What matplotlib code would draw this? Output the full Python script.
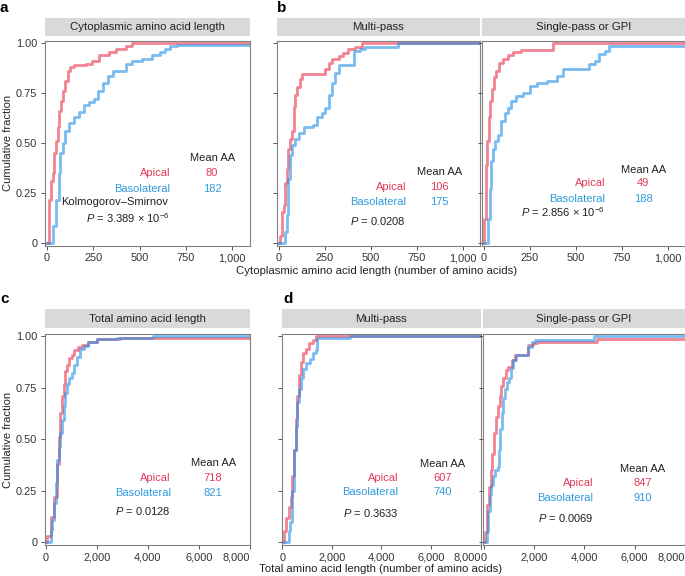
import matplotlib
matplotlib.use("Agg")
import matplotlib.pyplot as plt

plt.rcParams['font.family'] = ['Liberation Sans', 'DejaVu Sans']
plt.rcParams['mathtext.fontset'] = 'custom'
plt.rcParams['mathtext.rm'] = 'Liberation Sans'
plt.rcParams['mathtext.it'] = 'Liberation Sans:italic'

RED = '#E8304A'
BLUE = '#1E90E8'
RED_TXT = '#E23A58'
BLUE_TXT = '#2E9BDC'
FS = 8

# ---- data (x = amino acids, y = cumulative fraction) ----
# a: cytoplasmic length, all proteins
a_api_x = [0, 14, 23, 32, 41, 50, 59, 68, 77, 86, 98, 112, 127, 148, 211, 246, 282, 336, 371, 425, 460, 1100]
a_api_y = [0, 0.215, 0.31, 0.35, 0.45, 0.51, 0.58, 0.66, 0.71, 0.76, 0.81, 0.86, 0.88, 0.89, 0.895, 0.91, 0.94, 0.955, 0.97, 0.985, 1.0, 1.0]
a_bas_x = [0, 18, 32, 50, 64, 73, 86, 100, 121, 148, 175, 202, 228, 255, 273, 300, 327, 354, 407, 425, 461, 514, 568, 612,
           639, 666, 700, 1100]
a_bas_y = [0, 0, 0.083, 0.215, 0.35, 0.45, 0.5, 0.56, 0.6, 0.63, 0.655, 0.69, 0.705, 0.72, 0.76, 0.8, 0.835, 0.86, 0.86,
           0.895, 0.91, 0.92, 0.94, 0.955, 0.97, 0.985, 0.99, 0.99]

# b: cytoplasmic length, multi-pass
b_api_x = [0, 9, 18, 27, 36, 45, 54, 63, 72, 82, 91, 100, 114, 127, 236, 254, 272, 290, 326, 353, 380, 417, 453, 1100]
b_api_y = [0, 0.037, 0.155, 0.19, 0.3, 0.37, 0.47, 0.52, 0.56, 0.68, 0.74, 0.78, 0.82, 0.845, 0.845, 0.87, 0.9, 0.92,
           0.935, 0.95, 0.97, 0.98, 1.0, 1.0]
b_bas_x = [0, 27, 36, 45, 54, 63, 72, 91, 109, 136, 190, 208, 236, 254, 272, 290, 308, 326, 380, 408, 444, 471, 652, 1100]
b_bas_y = [0, 0, 0.054, 0.14, 0.32, 0.44, 0.49, 0.52, 0.55, 0.58, 0.59, 0.63, 0.65, 0.675, 0.74, 0.8, 0.85, 0.89, 0.89,
           0.96, 0.97, 0.98, 1.0, 1.0]

# b: cytoplasmic length, single-pass or GPI
s_api_x = [0, 5, 11, 18, 27, 36, 44, 55, 69, 84, 106, 133, 161, 206, 376, 1100]
s_api_y = [0, 0.12, 0.39, 0.51, 0.63, 0.71, 0.77, 0.83, 0.86, 0.9, 0.92, 0.94, 0.955, 0.965, 1.0, 1.0]
s_bas_x = [0, 15, 24, 33, 42, 51, 64, 78, 97, 115, 133, 151, 179, 215, 252, 288, 343, 398, 434, 526, 571, 608, 626, 662,
           681, 1100]
s_bas_y = [0, 0, 0.12, 0.27, 0.41, 0.47, 0.51, 0.54, 0.61, 0.65, 0.675, 0.71, 0.735, 0.75, 0.785, 0.8, 0.81, 0.835, 0.87,
           0.87, 0.895, 0.91, 0.945, 0.96, 0.985, 0.985]

# c: total length, all proteins
c_api_x = [0, 65, 194, 323, 452, 516, 580, 645, 710, 774, 839, 929, 1032, 1122, 1251, 1419, 1677, 2000, 2900, 8500]
c_api_y = [0, 0.03, 0.125, 0.22, 0.38, 0.51, 0.63, 0.71, 0.77, 0.83, 0.86, 0.895, 0.91, 0.935, 0.95, 0.96, 0.975, 0.985,
           0.99, 0.99]
c_bas_x = [0, 129, 194, 258, 323, 387, 452, 516, 580, 645, 710, 774, 839, 929, 1032, 1122, 1225, 1354, 1483, 1677, 2000,
           2774, 4190, 8500]
c_bas_y = [0, 0, 0.06, 0.11, 0.19, 0.29, 0.4, 0.465, 0.53, 0.595, 0.66, 0.725, 0.77, 0.8, 0.82, 0.86, 0.9, 0.94, 0.955,
           0.975, 0.985, 0.99, 1.0, 1.0]

# d: total length, multi-pass
d_api_x = [0, 67, 162, 256, 337, 404, 471, 539, 606, 674, 741, 835, 943, 1078, 1239, 1374, 8500]
d_api_y = [0, 0.053, 0.12, 0.17, 0.22, 0.32, 0.45, 0.6, 0.71, 0.81, 0.875, 0.92, 0.94, 0.97, 0.98, 1.0, 1.0]
d_bas_x = [0, 189, 256, 323, 404, 471, 539, 606, 674, 741, 835, 970, 1105, 1239, 1347, 1414, 2720, 8500]
d_bas_y = [0, 0, 0.053, 0.1, 0.25, 0.45, 0.56, 0.68, 0.745, 0.8, 0.84, 0.87, 0.89, 0.92, 0.935, 0.99, 1.0, 1.0]

# d: total length, single-pass or GPI
e_api_x = [0, 70, 141, 211, 282, 352, 423, 493, 564, 634, 705, 775, 888, 987, 1128, 1241, 1762, 1974, 2115, 4512, 8500]
e_api_y = [0, 0.05, 0.18, 0.27, 0.35, 0.43, 0.53, 0.61, 0.66, 0.71, 0.76, 0.8, 0.835, 0.85, 0.885, 0.91, 0.96, 0.967,
           0.975, 0.985, 0.985]
e_bas_x = [0, 99, 141, 183, 240, 310, 380, 465, 564, 606, 663, 719, 775, 846, 917, 1015, 1086, 1170, 1269, 1762, 1904,
           2045, 4400, 8500]
e_bas_y = [0, 0, 0.053, 0.15, 0.23, 0.28, 0.32, 0.35, 0.365, 0.45, 0.55, 0.63, 0.7, 0.745, 0.78, 0.8, 0.845, 0.885, 0.91,
           0.95, 0.975, 0.98, 1.0, 1.0]

titles = ['Cytoplasmic amino acid length', 'Multi-pass', 'Single-pass or GPI',
          'Total amino acid length', 'Multi-pass', 'Single-pass or GPI']
mean_api = ['80', '106', '49', '718', '607', '847']
mean_bas = ['182', '175', '188', '821', '740', '910']
pvals = [r'$\it{P}$ = 3.389 × 10$^{-6}$', r'$\it{P}$ = 0.0208', r'$\it{P}$ = 2.856 × 10$^{-6}$',
         r'$\it{P}$ = 0.0128', r'$\it{P}$ = 0.3633', r'$\it{P}$ = 0.0069']
curves = [(a_api_x, a_api_y, a_bas_x, a_bas_y), (b_api_x, b_api_y, b_bas_x, b_bas_y),
          (s_api_x, s_api_y, s_bas_x, s_bas_y), (c_api_x, c_api_y, c_bas_x, c_bas_y),
          (d_api_x, d_api_y, d_bas_x, d_bas_y), (e_api_x, e_api_y, e_bas_x, e_bas_y)]

W, H = 685, 576
fig = plt.figure(figsize=(W / 100, H / 100), dpi=100)

# pixel boxes (left, right) and (top, bottom)
xspans = [(45, 250), (276.7, 480), (481.7, 685), (45, 250), (281.7, 480.5), (483, 685)]
row_y = [(40.7, 245.6), (334.3, 545)]
strip_y = [(18.3, 36), (309.3, 328.3)]
# text positions in axes fraction: (mean x, label right x, mean y, apical y, baso y, ks y, p y)
txt = [(0.815, 0.61, 0.427, 0.353, 0.276, 0.213, 0.134),
       (0.80, 0.636, 0.358, 0.287, 0.214, None, 0.12),
       (0.795, 0.607, 0.369, 0.304, 0.227, None, 0.165),
       (0.82, 0.613, 0.388, 0.317, 0.245, None, 0.161),
       (0.81, 0.587, 0.384, 0.317, 0.25, None, 0.153),
       (0.79, 0.546, 0.36, 0.296, 0.225, None, 0.13)]

for i in range(6):
    row = i // 3
    x0, x1 = xspans[i]
    t, b = row_y[row]
    ax = fig.add_axes([x0 / W, 1 - b / H, (x1 - x0) / W, (b - t) / H])
    ax_x, ax_y, bx, by = curves[i]
    ax.step(ax_x, ax_y, where='post', color=RED, lw=2.0, alpha=0.6)
    ax.step(bx, by, where='post', color=BLUE, lw=2.0, alpha=0.6)
    ax.set_ylim(-0.013, 1.01)
    ax.set_yticks([0, 0.25, 0.5, 0.75, 1.0])
    if row == 0:
        ax.set_xlim(-10, 1095)
        ax.set_xticks([0, 250, 500, 750, 1000])
        ax.set_xticklabels(['0', '250', '500', '750', '1,000'])
    else:
        ax.set_xlim(-25, 8000)
        ax.set_xticks([0, 2000, 4000, 6000, 8000])
        ax.set_xticklabels(['0', '2,000', '4,000', '6,000', '8,000'])
        ax.get_xticklabels()[-1].set_ha('right')
    if i % 3 == 0:
        ax.set_yticklabels(['0', '0.25', '0.50', '0.75', '1.00'])
        fig.text(8 / W, 1 - ((t + b) / 2) / H, 'Cumulative fraction', rotation=90, ha='center', va='center',
                 fontsize=FS, color='#222222')
    else:
        ax.set_yticklabels([])
    ax.tick_params(length=3, width=0.7, color='#555555', labelsize=7.9, labelcolor='#333333', pad=2.5)
    for s in ax.spines.values():
        s.set_color('#808080')
        s.set_linewidth(0.8)

    mx, lx, my, ay, by_, ky, py = txt[i]
    tr = ax.transAxes
    ax.text(mx, my, 'Mean AA', transform=tr, ha='center', va='center', fontsize=FS, color='#222222')
    ax.text(lx, ay, 'Apical', transform=tr, ha='right', va='center', fontsize=FS, color=RED_TXT)
    ax.text(mx, ay, mean_api[i], transform=tr, ha='center', va='center', fontsize=FS, color=RED_TXT)
    ax.text(lx, by_, 'Basolateral', transform=tr, ha='right', va='center', fontsize=FS, color=BLUE_TXT)
    ax.text(mx, by_, mean_bas[i], transform=tr, ha='center', va='center', fontsize=FS, color=BLUE_TXT)
    if ky is not None:
        ax.text(lx - 0.01, ky, 'Kolmogorov–Smirnov', transform=tr, ha='right', va='center', fontsize=FS,
                color='#222222')
    ax.text(lx, py, pvals[i], transform=tr, ha='right', va='center', fontsize=FS, color='#222222')

    # strip
    st, sb = strip_y[row]
    sax = fig.add_axes([x0 / W, 1 - sb / H, (x1 - x0) / W, (sb - st) / H])
    sax.set_facecolor('#D9D9D9')
    sax.set_xticks([])
    sax.set_yticks([])
    for s in sax.spines.values():
        s.set_visible(False)
    sax.text(0.5, 0.5, titles[i], transform=sax.transAxes, ha='center', va='center', fontsize=8.2, color='#222222')

fig.text(377 / W, 1 - 271 / H, 'Cytoplasmic amino acid length (number of amino acids)', ha='center', va='center',
         fontsize=8.2, color='#222222')
fig.text(381 / W, 1 - 569 / H, 'Total amino acid length (number of amino acids)', ha='center', va='center',
         fontsize=8.2, color='#222222')

for lab, x, y in [('a', 0, 8), ('b', 277, 8), ('c', 0, 299), ('d', 283, 299)]:
    fig.text(x / W, 1 - y / H, lab, ha='left', va='center', fontsize=11, fontweight='bold', color='black')

fig.savefig('out.png', dpi=100)
